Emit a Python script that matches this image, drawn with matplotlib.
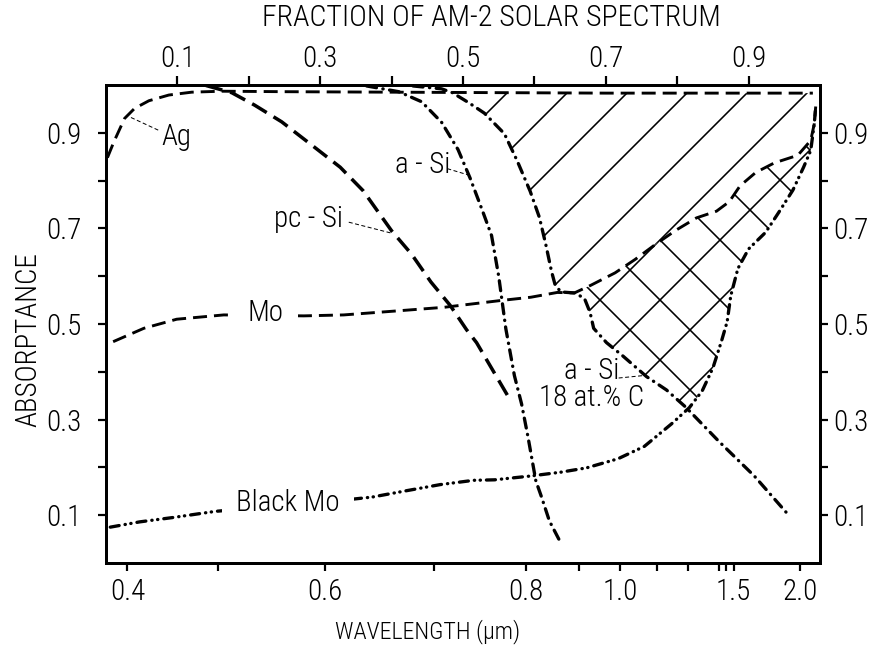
import numpy as np
import matplotlib
matplotlib.use("Agg")
import matplotlib.pyplot as plt
from matplotlib import font_manager

# ---------------- data ----------------
# x-axis is the cumulative fraction of the AM-2 solar spectrum (linear, top axis)
frac_ticks = [0.1, 0.2, 0.3, 0.4, 0.5, 0.6, 0.7, 0.8, 0.9]
frac_labels = ["0.1", "", "0.3", "", "0.5", "", "0.7", "", "0.9"]

# wavelength ticks (bottom axis) and their positions on the fraction scale
wl_values = [0.4, 0.5, 0.6, 0.7, 0.8, 0.9, 1.0, 1.1, 1.2, 1.3, 1.4, 1.5, 2.0]
wl_frac = [0.030, 0.157, 0.307, 0.460, 0.588, 0.663, 0.720, 0.772, 0.815,
           0.858, 0.869, 0.879, 0.972]
wl_labels = ["0.4", "", "0.6", "", "0.8", "", "1.0", "", "", "", "", "1.5", "2.0"]

abs_ticks = [0.1, 0.2, 0.3, 0.4, 0.5, 0.6, 0.7, 0.8, 0.9]
abs_labels = ["0.1", "", "0.3", "", "0.5", "", "0.7", "", "0.9"]

ag_f = [0.002, 0.011, 0.026, 0.040, 0.060, 0.088, 0.120, 0.162, 0.25, 0.40, 0.55, 0.70, 0.85, 0.99]
ag_v = [0.848, 0.881, 0.930, 0.951, 0.967, 0.979, 0.985, 0.987, 0.986, 0.985, 0.984, 0.983, 0.983, 0.983]

pcsi_f = [0.140, 0.176, 0.208, 0.246, 0.291, 0.328, 0.360, 0.400, 0.428, 0.455,
          0.482, 0.505, 0.519, 0.563]
pcsi_v = [0.999, 0.984, 0.958, 0.923, 0.871, 0.828, 0.779, 0.695, 0.646, 0.588,
          0.539, 0.488, 0.461, 0.349]

asi_f = [0.365, 0.410, 0.442, 0.470, 0.493, 0.510, 0.527, 0.540, 0.550, 0.560,
         0.572, 0.582, 0.591, 0.602, 0.610, 0.621, 0.638]
asi_v = [0.998, 0.986, 0.965, 0.922, 0.865, 0.805, 0.738, 0.685, 0.600, 0.490,
         0.392, 0.333, 0.264, 0.172, 0.138, 0.088, 0.039]

asic_f = [0.430, 0.470, 0.485, 0.508, 0.530, 0.558, 0.576, 0.594, 0.607, 0.616,
          0.624, 0.629, 0.637, 0.656, 0.670, 0.678, 0.683, 0.701, 0.724, 0.757,
          0.785, 0.812, 0.858, 0.908, 0.955]
asic_v = [0.998, 0.992, 0.984, 0.963, 0.941, 0.898, 0.841, 0.778, 0.723, 0.666,
          0.610, 0.582, 0.567, 0.565, 0.554, 0.524, 0.491, 0.461, 0.433, 0.390,
          0.362, 0.326, 0.255, 0.182, 0.102]

mo_f = [0.010, 0.053, 0.099, 0.165, 0.277, 0.333, 0.404, 0.474, 0.552, 0.595,
        0.632, 0.656, 0.679, 0.713, 0.741, 0.770, 0.798, 0.827, 0.855, 0.873,
        0.888, 0.910, 0.936, 0.969, 0.987, 0.992, 0.994]
mo_v = [0.463, 0.491, 0.510, 0.519, 0.517, 0.519, 0.527, 0.535, 0.549, 0.556,
        0.566, 0.565, 0.581, 0.607, 0.635, 0.667, 0.696, 0.722, 0.736, 0.756,
        0.789, 0.817, 0.837, 0.853, 0.884, 0.919, 0.955]

bmo_f = [0.006, 0.047, 0.093, 0.153, 0.342, 0.373, 0.420, 0.468, 0.515, 0.544,
         0.595, 0.637, 0.673, 0.717, 0.754, 0.792, 0.817, 0.835, 0.850, 0.862,
         0.870, 0.875, 0.885, 0.900, 0.924, 0.942, 0.962, 0.977, 0.987, 0.992, 0.994]
bmo_v = [0.075, 0.086, 0.095, 0.108, 0.133, 0.138, 0.151, 0.164, 0.173, 0.174,
         0.182, 0.190, 0.199, 0.218, 0.244, 0.291, 0.325, 0.360, 0.408, 0.464,
         0.505, 0.559, 0.616, 0.657, 0.692, 0.733, 0.780, 0.828, 0.863, 0.919, 0.955]

# curve labels: text, label position, leader line (from, to)
curve_labels = ["Ag", "pc - Si", "a - Si", "Mo", "Black Mo", "a - Si\n18 at.% C"]
label_pos = [(0.099, 0.892), (0.284, 0.719), (0.443, 0.833), (0.223, 0.523),
             (0.255, 0.125), (0.680, 0.374)]
leaders = [((0.035, 0.932), (0.074, 0.905)),
           ((0.340, 0.713), (0.400, 0.690)),
           ((0.478, 0.825), (0.507, 0.812)),
           ((0.718, 0.387), (0.752, 0.392))]

# ---------------- style ----------------
DPI = 180
PX = 72.0 / DPI  # points per pixel

entries = font_manager.fontManager.ttflist
names = {f.name for f in entries}
stretch = "normal"
if "Liberation Sans Narrow" in names:
    FONT = "Liberation Sans Narrow"
elif "Roboto Condensed" in names:
    FONT = "Roboto Condensed"
elif any(f.name == "DejaVu Sans" and "condensed" in str(f.stretch) for f in entries):
    FONT = "DejaVu Sans"
    stretch = "condensed"
elif "Open Sans Condensed" in names:
    FONT = "Open Sans Condensed"
else:
    FONT = "Liberation Sans"
plt.rcParams["font.family"] = [FONT, "DejaVu Sans"]
plt.rcParams["font.stretch"] = stretch
plt.rcParams["font.weight"] = "light"
plt.rcParams["lines.scale_dashes"] = False
plt.rcParams["hatch.color"] = "black"
plt.rcParams["hatch.linewidth"] = 1.6 * PX

W, H = 877, 647
fig = plt.figure(figsize=(W / DPI, H / DPI), dpi=DPI)
left, right, top, bottom = 106, 820, 85, 563
ax = fig.add_axes([left / W, 1 - bottom / H, (right - left) / W, (bottom - top) / H])
ax.set_xlim(0, 1.0)
ax.set_ylim(0, 1.0)

for s in ax.spines.values():
    s.set_linewidth(3.0 * PX)

lw = 2.9 * PX
dash_long = (0, (14 * PX, 7 * PX))
dash_pc = (0, (17 * PX, 8 * PX))
dashdot = (0, (10 * PX, 6.5 * PX, 0.3 * PX, 6.5 * PX))
dashdotdot = (0, (9 * PX, 6 * PX, 0.3 * PX, 5.5 * PX, 0.3 * PX, 6 * PX))

ax.plot(ag_f, ag_v, color="black", lw=lw, linestyle=dash_long, zorder=3)
ax.plot(pcsi_f, pcsi_v, color="black", lw=3.5 * PX, linestyle=dash_pc, zorder=3)
ax.plot(mo_f, mo_v, color="black", lw=lw, linestyle=dash_long, zorder=3)
ax.plot(asi_f, asi_v, color="black", lw=3.3 * PX, linestyle=dashdot,
        dash_capstyle="round", zorder=3)
ax.plot(asic_f, asic_v, color="black", lw=3.3 * PX, linestyle=dashdot,
        dash_capstyle="round", zorder=3)
ax.plot(bmo_f, bmo_v, color="black", lw=3.3 * PX, linestyle=dashdotdot,
        dash_capstyle="round", zorder=3)

# hatched regions
fg = np.linspace(0.43, 0.994, 800)
ag_i = np.interp(fg, ag_f, ag_v)
asic_i = np.interp(fg, asic_f, asic_v)
mo_i = np.interp(fg, mo_f, mo_v)
bmo_i = np.interp(fg, bmo_f, bmo_v)
low1 = np.maximum(asic_i, mo_i)
ax.fill_between(fg, low1, ag_i, where=ag_i > low1, interpolate=True,
                facecolor="none", edgecolor="black", linewidth=0, hatch="/", zorder=2)
low2 = np.maximum(asic_i, bmo_i)
ax.fill_between(fg, low2, mo_i, where=(mo_i > low2) & (fg > 0.64), interpolate=True,
                facecolor="none", edgecolor="black", linewidth=0, hatch="x", zorder=2)

# curve labels (sizes given in pixels of the em box)
lab_fs = 29 * PX
for txt, (fx, fy) in zip(curve_labels, label_pos):
    kw = {}
    if txt in ("Mo", "Black Mo"):
        kw["bbox"] = dict(boxstyle="square,pad=0.5", facecolor="white", edgecolor="none")
    ax.text(fx, fy, txt, fontsize=lab_fs, ha="center", va="center",
            multialignment="center", linespacing=0.95, zorder=4, **kw)
for (p0, p1) in leaders:
    ax.plot([p0[0], p1[0]], [p0[1], p1[1]], color="black", lw=1.0 * PX,
            linestyle=(0, (4 * PX, 2.5 * PX)), zorder=3)

tick_fs = 29 * PX
# bottom (wavelength) axis
ax.set_xticks(wl_frac)
ax.set_xticklabels(wl_labels)
ax.tick_params(axis="x", direction="out", length=8 * PX, width=2.2 * PX,
               labelsize=tick_fs, pad=7 * PX)

# left axis
ax.set_yticks(abs_ticks)
ax.set_yticklabels(abs_labels)
ax.tick_params(axis="y", direction="out", length=8 * PX, width=2.2 * PX,
               labelsize=tick_fs, pad=16 * PX)

# top (fraction) axis
topax = ax.secondary_xaxis("top")
topax.set_xticks(frac_ticks)
topax.set_xticklabels(frac_labels)
topax.tick_params(direction="out", length=9 * PX, width=2.2 * PX, labelsize=tick_fs, pad=3 * PX)
topax.spines["top"].set_linewidth(3.0 * PX)

# right axis
rax = ax.secondary_yaxis("right")
rax.set_yticks(abs_ticks)
rax.set_yticklabels(abs_labels)
rax.tick_params(direction="out", length=8 * PX, width=2.2 * PX, labelsize=tick_fs, pad=5 * PX)
rax.spines["right"].set_linewidth(3.0 * PX)

fig.text(491 / W, 1 - 18 / H, "FRACTION OF AM-2 SOLAR SPECTRUM", fontsize=30 * PX,
         ha="center", va="center")
fig.text(428 / W, 1 - 632 / H, "WAVELENGTH (μm)", fontsize=24 * PX,
         ha="center", va="center")
fig.text(28 / W, 1 - 340 / H, "ABSORPTANCE", fontsize=29 * PX, rotation=90,
         ha="center", va="center")

fig.savefig("out.png", dpi=DPI, facecolor="white")
